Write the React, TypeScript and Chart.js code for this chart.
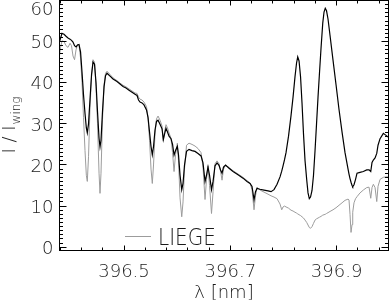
import React, { useEffect, useRef } from "react";
import { Chart, registerables } from "chart.js";

Chart.register(...registerables);

// Wavelength grid (nm)
const wavelength = [
  396.3777, 396.3805, 396.3833, 396.3871, 396.3909, 396.3946, 396.3984, 396.4012, 396.404, 396.4069,
  396.4097, 396.4125, 396.4153, 396.4182, 396.421, 396.4238, 396.4266, 396.4291, 396.4309, 396.4332,
  396.436, 396.4389, 396.4417, 396.4445, 396.4473, 396.4501, 396.453, 396.4548, 396.4567, 396.4595,
  396.4624, 396.4652, 396.468, 396.4737, 396.4793, 396.4868, 396.4925, 396.4981, 396.5038, 396.5094,
  396.5151, 396.5207, 396.5245, 396.5273, 396.5301, 396.5339, 396.5376, 396.5423, 396.5452, 396.548,
  396.5508, 396.5532, 396.5555, 396.5583, 396.5611, 396.564, 396.5677, 396.5715, 396.5739, 396.5762,
  396.579, 396.5818, 396.5847, 396.5884, 396.5913, 396.5941, 396.5969, 396.6003, 396.6025, 396.6054,
  396.6086, 396.611, 396.6138, 396.6176, 396.6223, 396.6279, 396.6336, 396.6392, 396.6449, 396.6486,
  396.6524, 396.6552, 396.658, 396.6609, 396.6646, 396.6675, 396.6712, 396.675, 396.6787, 396.6816,
  396.6844, 396.6872, 396.691, 396.6976, 396.7051, 396.7145, 396.7239, 396.7314, 396.7371, 396.7408,
  396.7446, 396.7474, 396.7502, 396.7559, 396.7634, 396.7709, 396.7766, 396.7822, 396.7879, 396.7935,
  396.7967, 396.7992, 396.802, 396.8048, 396.8095, 396.8142, 396.818, 396.8217, 396.8246, 396.8268,
  396.8293, 396.8321, 396.8349, 396.8377, 396.8406, 396.8438, 396.8462, 396.8486, 396.8509, 396.8537,
  396.8565, 396.8594, 396.8622, 396.865, 396.8678, 396.8707, 396.8739, 396.8763, 396.8786, 396.881,
  396.8838, 396.8876, 396.8932, 396.8989, 396.9045, 396.9102, 396.9158, 396.9215, 396.9233, 396.9252,
  396.9271, 396.929, 396.9303, 396.9327, 396.9356, 396.9384, 396.944, 396.9502, 396.9566, 396.961,
  396.9642, 396.9666, 396.9691, 396.9723, 396.9755, 396.9779, 396.9817, 396.9879, 396.993, 396.9967,
];

// Observed profile (black)
const observedIntensity = [
  49.5, 50.8, 52.0, 51.8, 51.3, 50.9, 50.6, 50.3, 49.9, 49.0,
  48.7, 49.2, 49.3, 47.5, 42.5, 37.0, 32.5, 29.0, 27.8, 30.0,
  36.0, 42.0, 45.0, 44.5, 40.0, 33.0, 26.5, 24.4, 26.0, 33.0,
  39.0, 41.7, 42.3, 41.6, 40.9, 40.3, 39.7, 39.1, 38.7, 38.2,
  37.7, 37.2, 36.9, 35.8, 35.3, 35.1, 34.6, 33.4, 31.5, 28.0,
  24.5, 22.5, 24.5, 28.5, 30.6, 30.9, 29.9, 28.8, 26.2, 27.5,
  28.9, 28.0, 27.0, 26.4, 25.0, 22.4, 23.5, 24.5, 22.5, 17.5,
  14.0, 15.5, 20.0, 23.3, 23.8, 23.5, 23.3, 22.8, 22.2, 20.5,
  16.0, 17.5, 19.5, 17.5, 14.0, 16.0, 19.8, 20.5, 19.9, 18.8,
  18.0, 19.5, 20.0, 19.2, 18.4, 17.6, 16.8, 16.0, 15.5, 14.8,
  11.5, 13.5, 14.3, 14.1, 13.9, 13.7, 13.5, 14.0, 15.3, 17.1,
  18.5, 19.8, 21.3, 23.0, 27.0, 32.0, 36.5, 41.5, 44.8, 46.3,
  45.3, 41.5, 35.0, 27.5, 21.0, 16.3, 13.2, 11.8, 12.2, 13.8,
  17.5, 23.5, 30.0, 36.5, 42.5, 48.5, 54.5, 57.2, 58.1, 57.5,
  55.5, 51.5, 45.5, 39.5, 33.5, 28.0, 23.0, 19.0, 17.8, 16.7,
  15.8, 15.0, 14.7, 15.2, 16.5, 18.0, 18.2, 18.4, 18.8, 18.8,
  18.4, 20.6, 21.2, 21.7, 22.8, 24.8, 26.4, 27.7, 27.2, 26.8,
];

// LIEGE atlas profile (gray)
const liegeIntensity = [
  45.5, 48.5, 50.2, 50.0, 49.0, 48.6, 49.6, 49.0, 46.5, 45.6,
  48.0, 49.3, 49.2, 46.0, 40.0, 31.5, 23.5, 17.5, 16.0, 22.0,
  34.0, 41.5, 45.6, 45.0, 39.0, 30.0, 18.0, 13.1, 18.0, 31.0,
  39.5, 42.3, 42.8, 42.0, 41.2, 40.5, 39.9, 39.4, 39.0, 38.5,
  38.0, 37.5, 37.4, 36.5, 36.0, 35.8, 35.3, 34.2, 31.5, 26.0,
  19.0, 15.5, 20.0, 27.5, 31.2, 31.9, 30.9, 29.5, 25.8, 28.0,
  29.8, 29.0, 27.8, 26.5, 23.0, 18.4, 22.5, 25.3, 21.0, 12.0,
  7.4, 11.0, 19.0, 24.8, 25.3, 25.0, 24.6, 24.0, 23.0, 19.5,
  11.6, 16.5, 19.8, 15.0, 8.2, 13.5, 20.3, 21.0, 20.3, 18.5,
  16.3, 19.0, 19.9, 19.4, 18.6, 17.8, 17.0, 16.2, 15.6, 14.0,
  9.1, 12.5, 14.6, 13.9, 13.4, 12.9, 12.5, 12.2, 11.8, 10.5,
  9.1, 9.8, 10.0, 9.8, 9.5, 9.0, 8.8, 8.5, 8.3, 8.1,
  7.9, 7.7, 7.4, 7.1, 6.6, 6.0, 5.4, 4.8, 4.6, 5.0,
  5.8, 6.6, 6.9, 7.1, 7.3, 7.5, 7.8, 7.9, 8.0, 8.2,
  8.4, 8.7, 9.1, 9.6, 10.2, 10.8, 11.4, 11.7, 11.5, 8.0,
  3.6, 5.5, 8.5, 10.8, 11.8, 12.3, 13.2, 13.9, 14.5, 14.6,
  11.9, 14.5, 15.3, 14.5, 11.1, 14.8, 16.5, 17.0, 17.1, 17.1,
];

const xMajorTicks = [396.5, 396.7, 396.9];
const xMinorStep = 0.04;
const yMajorTicks = [0, 10, 20, 30, 40, 50, 60];
const yMinorStep = 1;
const xMin = 396.3786;
const xMax = 396.9976;
const yMin = -0.8;
const yMax = 60;
const xTitle = "λ [nm]";
const yTitleMain = "I / I";
const yTitleSub = "wing";
const legendLabel = "LIEGE";

const FONT = '"DejaVu Sans"';
const W = "200";
const TEXT = "#1a1a1a";
const GRAY = "#9c9c9c";

const idlAxes = {
  id: "idlAxes",
  afterDraw(chart: any) {
    const { ctx, chartArea: a, scales } = chart;
    const xs = scales.x;
    const ys = scales.y;
    ctx.save();
    ctx.strokeStyle = "#000";
    ctx.lineWidth = 1;
    ctx.strokeRect(a.left, a.top, a.right - a.left, a.bottom - a.top);

    // x ticks (bottom and top, inward)
    const base = xMajorTicks[0];
    const kStart = Math.ceil((xMin - base) / xMinorStep - 1e-6);
    const kEnd = Math.floor((xMax - base) / xMinorStep + 1e-6);
    ctx.beginPath();
    for (let k = kStart; k <= kEnd; k++) {
      const v = base + k * xMinorStep;
      const px = Math.floor(xs.getPixelForValue(v)) + 0.5;
      const len = ((k % 5) + 5) % 5 === 0 ? 5 : 3;
      ctx.moveTo(px, a.bottom);
      ctx.lineTo(px, a.bottom - len);
      ctx.moveTo(px, a.top);
      ctx.lineTo(px, a.top + len);
    }
    // y ticks (left and right, inward)
    for (let v = Math.ceil(yMin); v <= yMax; v += yMinorStep) {
      const py = Math.floor(ys.getPixelForValue(v)) + 0.5;
      const len = v % 10 === 0 ? 7 : 3.5;
      ctx.moveTo(a.left, py);
      ctx.lineTo(a.left + len, py);
      ctx.moveTo(a.right, py);
      ctx.lineTo(a.right - len, py);
    }
    ctx.stroke();

    // tick labels
    ctx.fillStyle = TEXT;
    ctx.font = `${W} 18px ${FONT}`;
    ctx.textAlign = "right";
    ctx.textBaseline = "middle";
    yMajorTicks.forEach((v) => {
      const py = ys.getPixelForValue(v);
      ctx.fillText(String(v), a.left - 6, Math.max(py + 2, 10));
    });
    ctx.textAlign = "center";
    xMajorTicks.forEach((v) => {
      ctx.fillText(v.toFixed(1), xs.getPixelForValue(v), 272);
    });

    // x title
    ctx.fillText(xTitle, (a.left + a.right) / 2, 293);

    // y title with subscript, rotated
    ctx.save();
    ctx.translate(15, (a.top + a.bottom) / 2);
    ctx.rotate(-Math.PI / 2);
    ctx.textAlign = "left";
    ctx.textBaseline = "alphabetic";
    ctx.font = `${W} 18px ${FONT}`;
    const w1 = ctx.measureText(yTitleMain).width;
    ctx.font = `${W} 12px ${FONT}`;
    const w2 = ctx.measureText(yTitleSub).width;
    const start = -(w1 + w2) / 2;
    ctx.font = `${W} 18px ${FONT}`;
    ctx.fillText(yTitleMain, start, 0);
    ctx.font = `${W} 12px ${FONT}`;
    ctx.fillText(yTitleSub, start + w1 + 1, 5);
    ctx.restore();

    // legend
    ctx.strokeStyle = GRAY;
    ctx.lineWidth = 1;
    ctx.beginPath();
    ctx.moveTo(125, 236.5);
    ctx.lineTo(151, 236.5);
    ctx.stroke();
    ctx.save();
    ctx.font = `${W} 23px ${FONT}`;
    ctx.textAlign = "left";
    ctx.textBaseline = "alphabetic";
    const lw = ctx.measureText(legendLabel).width;
    ctx.translate(158, 245);
    ctx.scale(58 / lw, 1);
    ctx.fillStyle = TEXT;
    ctx.fillText(legendLabel, 0, 0);
    ctx.restore();

    ctx.restore();
  },
};

export default function App() {
  const ref = useRef<HTMLCanvasElement | null>(null);
  useEffect(() => {
    document.body.style.margin = "0";
    const canvas = ref.current;
    if (!canvas) return;
    const toPoints = (ys: number[]) => wavelength.map((w, i) => ({ x: w, y: ys[i] }));
    const chart = new Chart(canvas, {
      type: "line",
      data: {
        datasets: [
          {
            label: "observed",
            data: toPoints(observedIntensity),
            borderColor: "#000",
            borderWidth: 1.2,
            pointRadius: 0,
            tension: 0,
            order: 0,
          },
          {
            label: legendLabel,
            data: toPoints(liegeIntensity),
            borderColor: GRAY,
            borderWidth: 1,
            pointRadius: 0,
            tension: 0,
            order: 1,
          },
        ],
      },
      options: {
        animation: false,
        responsive: false,
        devicePixelRatio: 1,
        layout: { padding: { left: 59.5, right: 1.5, top: 0.5, bottom: 54.5 } },
        scales: {
          x: { type: "linear", min: xMin, max: xMax, display: false },
          y: { type: "linear", min: yMin, max: yMax, display: false },
        },
        plugins: { legend: { display: false }, tooltip: { enabled: false } },
      },
      plugins: [idlAxes],
    });
    return () => chart.destroy();
  }, []);
  return (
    <div style={{ width: 390, height: 305, background: "#fff" }}>
      <canvas ref={ref} width={390} height={305} />
    </div>
  );
}
